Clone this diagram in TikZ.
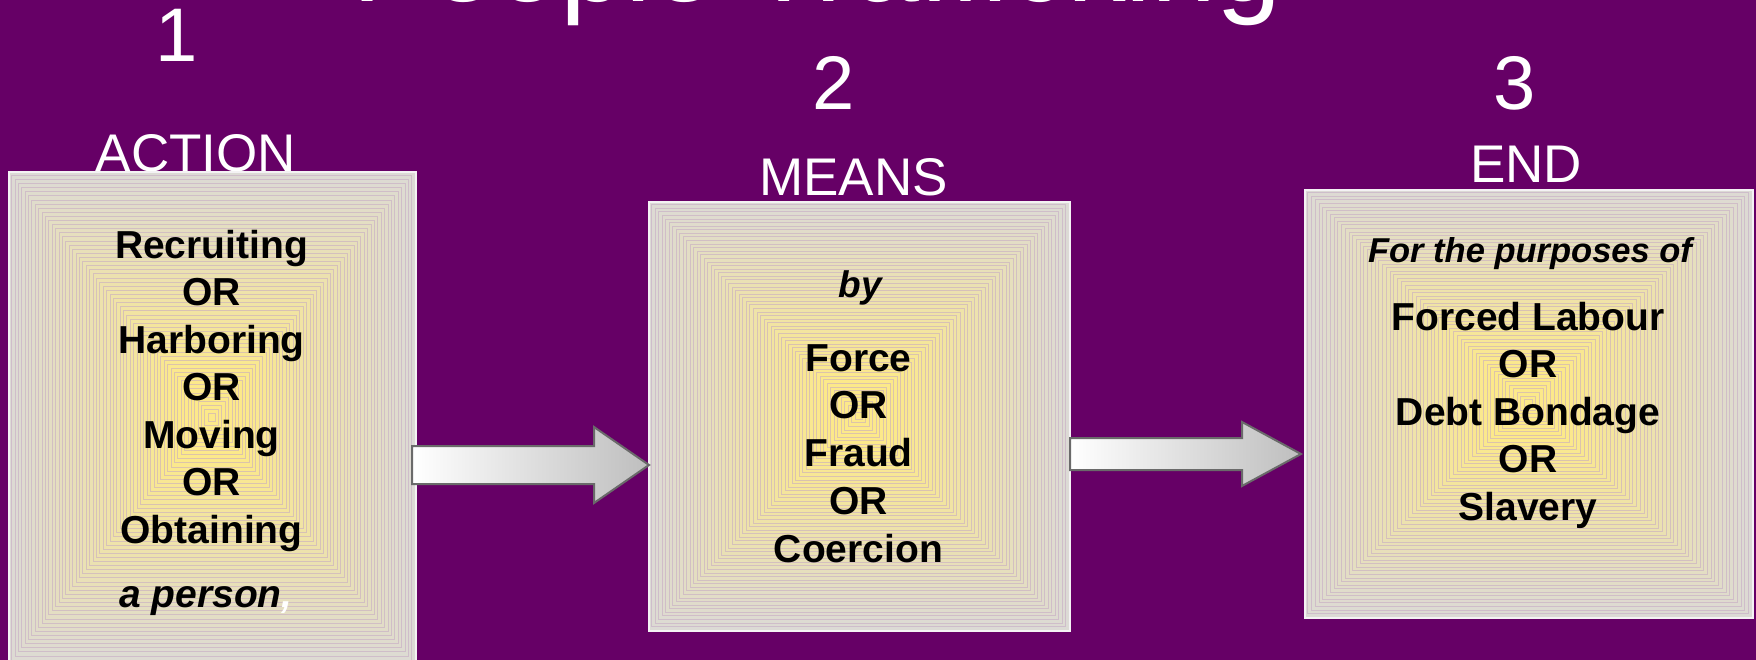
\documentclass[tikz,border=0pt]{standalone}
\usepackage{fontspec}
\setmainfont{Liberation Sans}
\usetikzlibrary{calc}
\definecolor{bgpurple}{HTML}{660066}
\definecolor{boxgray}{HTML}{DCDAD5}
\definecolor{boxyellow}{HTML}{FCE98A}
\definecolor{stripe}{HTML}{C4A6C4}
\definecolor{arrowdark}{HTML}{BEBEBE}
\definecolor{arrowedge}{HTML}{6A6A6A}
\definecolor{frameline}{HTML}{F4F2F4}

\newcommand\gradfill[4]{%
  \foreach \i in {0,...,59}{%
    \pgfmathsetmacro\gt{\i/60}%
    \pgfmathtruncatemacro\mx{min(100,118*\i/59)}%
    \pgfmathsetmacro\dx{\gt*(#3-#1)/2}%
    \pgfmathsetmacro\dy{\gt*(#4-#2)/2}%
    \path[fill=boxyellow!\mx!boxgray, draw=stripe, draw opacity=0.55, line width=0.5pt]
      ({#1+\dx},{#2+\dy}) rectangle ({#3-\dx},{#4-\dy});
  }}

\tikzset{
  boxframe/.style={draw=frameline, line width=2pt, inner sep=0pt, anchor=north west},
  boxtext/.style={font=\fontsize{39}{47.5}\selectfont\bfseries, align=center, anchor=base, inner sep=0pt, text=black},
  boxital/.style={font=\fontsize{39}{47.5}\selectfont\bfseries\itshape, anchor=base, inner sep=0pt, text=black},
  headtext/.style={font=\fontsize{53}{53}\selectfont, text=white, anchor=base, inner sep=0pt},
  numtext/.style={font=\fontsize{76}{76}\selectfont, text=white, anchor=base, inner sep=0pt},
  blockarrow/.style={draw=arrowedge, line width=2pt, left color=white, right color=arrowdark, line join=miter},
}

\begin{document}
\begin{tikzpicture}[x=1pt,y=-1pt]
\useasboundingbox (0,0) rectangle (1756,660);
\clip (0,0) rectangle (1756,660);
\fill[bgpurple] (0,0) rectangle (1756,660);

% title (mostly cut off at top)
\node[font=\fontsize{117}{117}\selectfont, text=white, anchor=base, inner sep=0pt] (title) at (817,2) {People Trafficking};

% step numbers
\node[numtext] (n1) at (177,62) {1};
\node[numtext] (n2) at (834,110) {2};
\node[numtext] (n3) at (1515,110) {3};

% headers
\node[headtext] (h1) at (196,172) {ACTION};
\node[headtext] (h2) at (853.5,196) {MEANS};
\node[headtext] (h3) at (1526,183) {END};

% boxes
\gradfill{8}{171}{415}{664}
\node[boxframe, minimum width=407pt, minimum height=493pt] (b1) at (8,171) {};
\gradfill{648}{201}{1069}{630}
\node[boxframe, minimum width=421pt, minimum height=429pt] (b2) at (648,201) {};
\gradfill{1304}{189}{1752}{617}
\node[boxframe, minimum width=448pt, minimum height=428pt] (b3) at (1304,189) {};

% box texts (multi-line nodes: base = last line's baseline)
\node[boxtext] (t1) at (211.5,543) {Recruiting\\OR\\Harboring\\OR\\Moving\\OR\\Obtaining};
\node[boxital] (t1b) at (206,607) {a person\textcolor{white}{,}};

\node[boxital, font=\fontsize{37}{47.5}\selectfont\bfseries\itshape] (t2a) at (860,298) {by};
\node[boxtext, font=\fontsize{39}{47.75}\selectfont\bfseries] (t2) at (858.5,562) {Force\\OR\\Fraud\\OR\\Coercion};

\node[boxital, font=\fontsize{34.5}{40}\selectfont\bfseries\itshape] (t3a) at (1530,263) {For the purposes of};
\node[boxtext] (t3) at (1528,520) {Forced Labour\\OR\\Debt Bondage\\OR\\Slavery};

% arrow 1
\coordinate (a1y) at (0,465);
\coordinate (a1s) at ($(b1.east |- a1y)+(-5,0)$);
\coordinate (a1t) at ($(b2.west |- a1y)+(1,0)$);
\path[blockarrow] (a1s) -- ++(0,-19) -- ($(a1t)+(-55,-19)$) -- ($(a1t)+(-55,-38)$) -- (a1t)
  -- ($(a1t)+(-55,38)$) -- ($(a1t)+(-55,19)$) -- ($(a1s)+(0,19)$) -- cycle;

% arrow 2
\coordinate (a2y) at (0,454);
\coordinate (a2s) at ($(b2.east |- a2y)+(-1,0)$);
\coordinate (a2t) at ($(b3.west |- a2y)+(-3,0)$);
\path[blockarrow] (a2s) -- ++(0,-16) -- ($(a2t)+(-59,-16)$) -- ($(a2t)+(-59,-32)$) -- (a2t)
  -- ($(a2t)+(-59,32)$) -- ($(a2t)+(-59,16)$) -- ($(a2s)+(0,16)$) -- cycle;
\end{tikzpicture}
\end{document}
